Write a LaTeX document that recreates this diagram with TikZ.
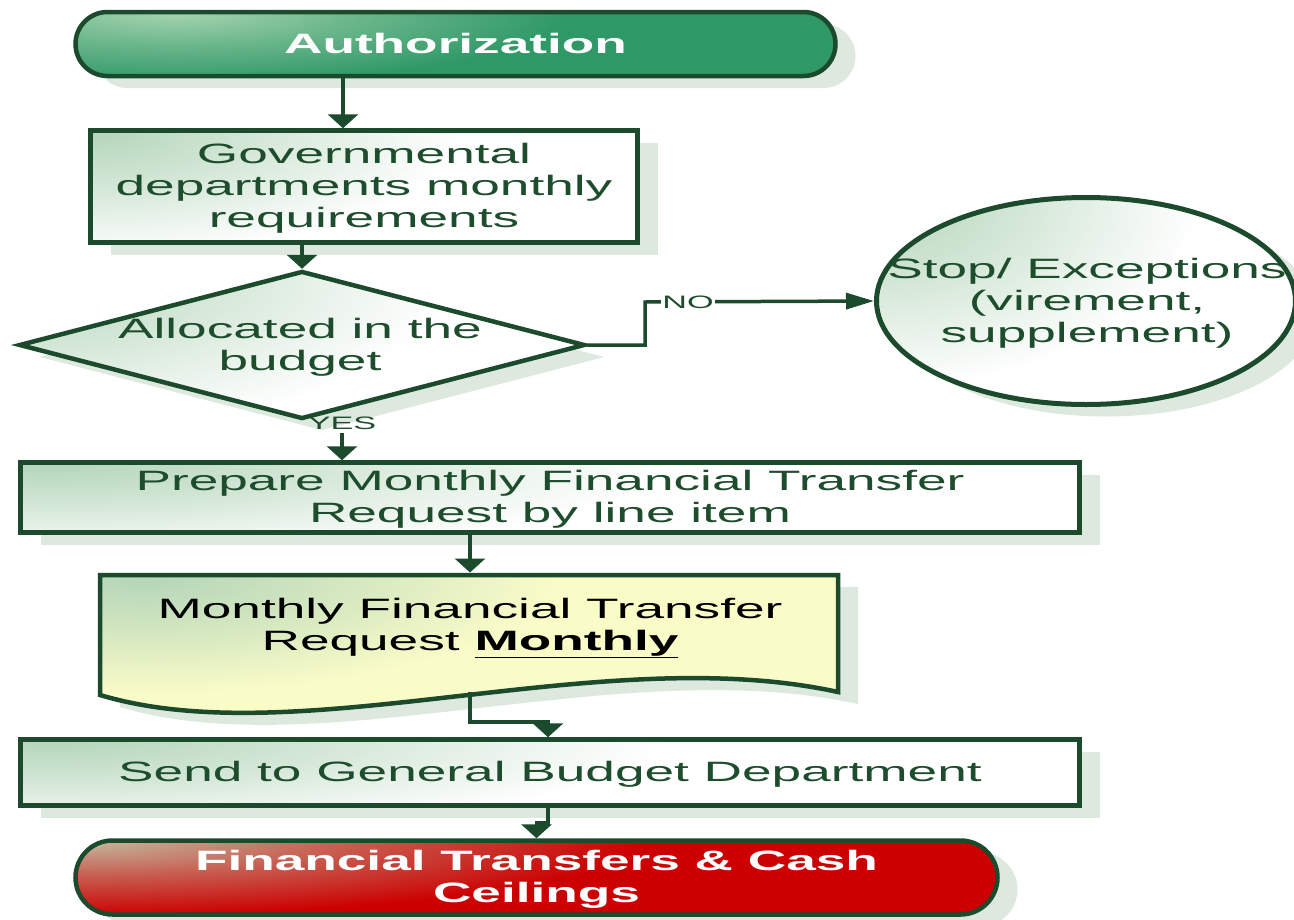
\documentclass[tikz,border=0pt]{standalone}
\usepackage{fontspec}
\setmainfont{Liberation Sans}
\usepackage{graphicx}
\usetikzlibrary{arrows.meta,shapes.geometric,shadows}
\definecolor{dgreen}{HTML}{1B4A2C}
\definecolor{tgreen}{HTML}{1E4D2D}
\definecolor{shad}{HTML}{DDE9DF}
\definecolor{lgreen}{HTML}{B3D5B9}
\definecolor{agreenA}{HTML}{A6D4B0}
\definecolor{agreenB}{HTML}{2E9866}
\definecolor{redA}{HTML}{C4BAA0}
\definecolor{redB}{HTML}{CC0000}
\definecolor{pyellow}{HTML}{FAFCC8}
\pgfdeclareradialshading{glowG}{\pgfpoint{0bp}{0bp}}{color(0bp)=(lgreen); color(7bp)=(lgreen!55!white); color(15bp)=(white); color(25bp)=(white); color(50bp)=(white)}
\pgfdeclareradialshading{glowD}{\pgfpoint{0bp}{0bp}}{color(0bp)=(lgreen); color(7bp)=(lgreen!55!pyellow); color(15bp)=(pyellow); color(25bp)=(pyellow); color(50bp)=(pyellow)}
\pgfdeclareradialshading{glowA}{\pgfpoint{0bp}{0bp}}{color(0bp)=(agreenA); color(7bp)=(agreenA!50!agreenB); color(15bp)=(agreenB); color(25bp)=(agreenB); color(50bp)=(agreenB)}
\pgfdeclareradialshading{glowR}{\pgfpoint{0bp}{0bp}}{color(0bp)=(redA); color(7bp)=(redA!50!redB); color(15bp)=(redB); color(25bp)=(redB); color(50bp)=(redB)}
\newcommand{\wtext}[1]{\raisebox{-3pt}[\height][\depth]{\scalebox{1.9}[1]{\fontsize{28}{32}\selectfont\begin{tabular}{@{}c@{}}#1\end{tabular}}}}
\newcommand{\btext}[1]{\raisebox{-3pt}[\height][\depth]{\scalebox{1.9}[1]{\fontsize{28}{32}\selectfont\bfseries\begin{tabular}{@{}c@{}}#1\end{tabular}}}}
\newcommand{\stext}[1]{\scalebox{1.9}[1]{\fontsize{18}{20}\selectfont #1}}
\tikzset{
  shadowed/.style={drop shadow={shadow xshift=20pt, shadow yshift=-12pt, fill=shad, opacity=1}},
  rshade/.style n args={4}{fill=#2, path picture={\shade[shading=#1]
      (path picture bounding box.north west) ellipse [x radius=#3, y radius=#4];}},
  box/.style={rectangle, draw=dgreen, line width=4.5pt, text=tgreen, inner sep=0pt, shadowed},
  pill/.style={rectangle, draw=dgreen, line width=4.5pt, text=white, inner sep=0pt, shadowed},
  conn/.style={draw=dgreen, line width=3.5pt},
  varr/.style={conn, -{Triangle[length=14pt,width=30pt]}},
  harr/.style={conn, -{Triangle[length=28pt,width=16pt]}},
  lab/.style={text=tgreen, inner sep=1pt},
}
\begin{document}
\begin{tikzpicture}[x=1pt,y=-1pt]
\useasboundingbox (0,0) rectangle (1294,919);
\fill[white] (0,0) rectangle (1294,919);

% terminal: Authorization
\node[pill, rounded corners=32pt, minimum width=760, minimum height=64,
  rshade={glowA}{agreenB}{560pt}{120pt}]
  (auth) at (455.5,44) {\btext{Authorization}};

% process box
\node[box, minimum width=547, minimum height=112, rshade={glowG}{white}{620pt}{210pt}] (gov) at (364,186.5)
  {\wtext{Governmental\\departments monthly\\requirements}};

% decision
\node[diamond, draw=dgreen, line width=4.5pt, minimum width=566, minimum height=148,
  inner sep=0pt, shadowed, rshade={glowG}{white}{720pt}{280pt}] (dia) at (302,345) {};
\node[text=tgreen, inner sep=0pt] (diat) at (300,345) {\wtext{Allocated in the\\budget}};

% stop ellipse
\node[ellipse, draw=dgreen, line width=5pt, minimum width=419, minimum height=207,
  inner sep=0pt, shadowed, rshade={glowG}{white}{540pt}{320pt}] (stop) at (1086,301) {};
\node[text=tgreen, inner sep=0pt] (stopt) at (1087,301) {\wtext{Stop/ Exceptions\\(virement,\\supplement)}};

% prepare box
\node[box, minimum width=1059, minimum height=70, rshade={glowG}{white}{1000pt}{160pt}] (prep) at (550,497.5)
  {\wtext{Prepare Monthly Financial Transfer\\Request by line item}};

% document shape
\fill[shad, shift={(20,12)}] (100,575) -- (838,575) -- (838,692)
  .. controls (600,640) and (300,755) .. (100,695) -- cycle;
\draw[dgreen, line width=4.5pt, rshade={glowD}{pyellow}{650pt}{200pt}]
  (100,575) -- (838,575) -- (838,692)
  .. controls (600,640) and (300,755) .. (100,695) -- cycle;
\node[text=black, inner sep=0pt] (doc) at (470,625)
  {\wtext{Monthly Financial Transfer\\Request \textbf{\underline{Monthly}}}};

% send box
\node[box, minimum width=1059, minimum height=66, rshade={glowG}{white}{1000pt}{160pt}] (send) at (550,772.5)
  {\wtext{Send to General Budget Department}};

% terminal: Financial Transfers
\node[pill, rounded corners=37pt, minimum width=922, minimum height=74,
  rshade={glowR}{redB}{950pt}{125pt}]
  (fin) at (536.5,877.5) {\btext{Financial Transfers \& Cash\\Ceilings}};

% helper coordinates
\coordinate (c1) at (343,0);
\coordinate (nox) at (645,302);
\coordinate (yes) at (342,433);
\coordinate (doctop) at (470,572.5);
\coordinate (docbot) at (470,692);
\coordinate (jog1) at (548,722);
\coordinate (jog2) at (548,823);

% connectors
\draw[varr] (auth.south -| c1) -- (gov.north -| c1);
\draw[varr] (gov.south -| dia.north) -- (dia.north);
\draw[harr] (dia.east) -| (nox) -- (stop.west);
\node[lab, fill=white] (nolab) at (688,302) {\stext{NO}};
\draw[varr] (yes) -- (yes |- prep.north);
\node[lab] (yeslab) at (342,423) {\stext{YES}};
\draw[varr] (prep.south -| doctop) -- (doctop);
\draw[varr] (docbot) |- (jog1) -- (jog1 |- send.north);
\draw[varr] (send.south -| jog2) -- (jog2) -| (fin.north);
\end{tikzpicture}
\end{document}
